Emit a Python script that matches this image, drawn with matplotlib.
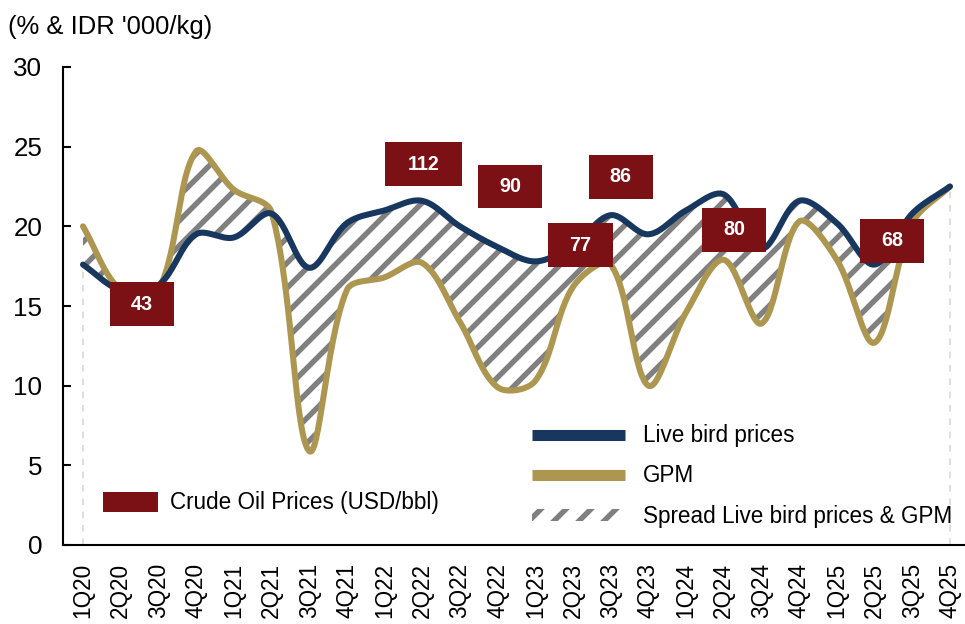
import numpy as np
import matplotlib
matplotlib.use("Agg")
import matplotlib.pyplot as plt
from matplotlib.patches import Rectangle, Patch
from matplotlib.lines import Line2D

plt.rcParams["font.family"] = ["Liberation Sans", "DejaVu Sans"]
plt.rcParams["hatch.linewidth"] = 2.6

# Chart data
quarters = ["1Q20", "2Q20", "3Q20", "4Q20", "1Q21", "2Q21", "3Q21", "4Q21",
            "1Q22", "2Q22", "3Q22", "4Q22", "1Q23", "2Q23", "3Q23", "4Q23",
            "1Q24", "2Q24", "3Q24", "4Q24", "1Q25", "2Q25", "3Q25", "4Q25"]
live_bird = [17.6, 16.0, 16.3, 19.5, 19.3, 20.8, 17.4, 20.2, 21.0, 21.6, 20.0, 18.7,
             17.8, 18.8, 20.7, 19.5, 21.0, 22.0, 18.6, 21.6, 20.2, 17.6, 20.8, 22.5]
gpm = [20.0, 16.0, 16.0, 24.7, 22.3, 20.9, 5.9, 16.0, 16.8, 17.7, 14.0, 9.9,
       10.3, 16.2, 17.6, 10.0, 14.6, 17.9, 13.9, 20.3, 17.9, 12.7, 20.2, 22.5]

# Crude oil price call-outs (USD/bbl) and where their boxes sit
oil_labels = ["43", "112", "90", "77", "86", "80", "68"]
oil_x = [1.56, 9.04, 11.33, 13.2, 14.27, 17.27, 21.46]
oil_y = [15.1, 23.9, 22.5, 18.8, 23.1, 19.8, 19.1]

NAVY = "#17375E"
GOLD = "#AD9750"
OIL_RED = "#7B1114"
HATCH_GREY = "#808080"

# pixel size of one x step / one y unit, used so smoothing works in screen space
PX_X, PX_Y = 37.7, 15.93


def smooth(values, steps=30):
    # Excel-like smoothed line: Bezier segments, tangents weighted by chord length
    pts = np.column_stack([np.arange(len(values)) * PX_X,
                           np.asarray(values, float) * PX_Y])
    n = len(pts)
    out = []
    for i in range(n - 1):
        p1, p2 = pts[i], pts[i + 1]
        l12 = np.hypot(*(p2 - p1))
        if i > 0:
            p0 = pts[i - 1]
            l01 = np.hypot(*(p1 - p0))
            c1 = p1 + (p2 - p0) * l12 / (l01 + l12) / 3
        else:
            c1 = p1 + (p2 - p1) / 3
        if i + 2 < n:
            p3 = pts[i + 2]
            l23 = np.hypot(*(p3 - p2))
            c2 = p2 - (p3 - p1) * l12 / (l12 + l23) / 3
        else:
            c2 = p2 - (p2 - p1) / 3
        t = np.linspace(0, 1, steps, endpoint=(i == n - 2))[:, None]
        seg = ((1 - t) ** 3 * p1 + 3 * (1 - t) ** 2 * t * c1
               + 3 * (1 - t) * t ** 2 * c2 + t ** 3 * p2)
        out.append(seg)
    out = np.vstack(out)
    return out[:, 0] / PX_X, out[:, 1] / PX_Y


W, H = 965, 624
fig = plt.figure(figsize=(W / 150, H / 150), dpi=150)
ax = fig.add_axes([63 / W, (H - 545) / H, (W - 63) / W, (545 - 67) / H])

xs_l, live_s = smooth(live_bird)
xs_g, gpm_s = smooth(gpm)
xs = np.linspace(0, len(quarters) - 1, 1200)
live_i = np.interp(xs, xs_l, live_s)
gpm_i = np.interp(xs, xs_g, gpm_s)

ax.fill_between(xs, live_i, gpm_i, facecolor="white", edgecolor=HATCH_GREY,
                hatch="//", linewidth=0, zorder=1)
ax.vlines([0, len(quarters) - 1], 0,
          [min(live_bird[0], gpm[0]), min(live_bird[-1], gpm[-1])],
          colors="#D9D9D9", linestyles=(0, (4, 4)), linewidth=0.8, zorder=0)
ax.plot(xs_g, gpm_s, color=GOLD, lw=2.9, zorder=2, solid_capstyle="round")
ax.plot(xs_l, live_s, color=NAVY, lw=2.9, zorder=3, solid_capstyle="round")

for lab, x, y in zip(oil_labels, oil_x, oil_y):
    w = 1.02 + 0.34 * len(lab)
    h = 2.76
    ax.add_patch(Rectangle((x - w / 2, y - h / 2), w, h, facecolor=OIL_RED,
                           edgecolor="none", zorder=4))
    ax.text(x, y, lab, color="white", fontweight="bold", fontsize=9.5,
            ha="center", va="center", zorder=5)

ax.set_xlim(-0.53, 23.4)
ax.set_ylim(0, 30)
ax.set_yticks(range(0, 31, 5))
ax.set_xticks(range(len(quarters)))
ax.set_xticklabels(quarters, rotation=90)
ax.tick_params(axis="y", direction="in", length=3.8, width=1, pad=10, labelsize=12.5)
ax.tick_params(axis="x", length=0, pad=8.6, labelsize=10.8)
for side in ["top", "right"]:
    ax.spines[side].set_visible(False)
for side in ["left", "bottom"]:
    ax.spines[side].set_linewidth(1.0)
    ax.spines[side].set_color("black")

leg1 = ax.legend(handles=[Patch(facecolor=OIL_RED, edgecolor="none")],
                 labels=["Crude Oil Prices (USD/bbl)"], loc="center left",
                 bbox_to_anchor=(103 / W, 1 - 503 / H), bbox_transform=fig.transFigure,
                 frameon=False, fontsize=10.8, handlelength=2.44, handleheight=0.96,
                 handletextpad=0.52, borderpad=0, borderaxespad=0)
ax.add_artist(leg1)

handles = [Line2D([], [], color=NAVY, lw=5.3, solid_capstyle="butt"),
           Line2D([], [], color=GOLD, lw=5.3, solid_capstyle="butt"),
           Patch(facecolor="white", edgecolor=HATCH_GREY, hatch="//", linewidth=0)]
ax.legend(handles=handles,
          labels=["Live bird prices", "GPM", "Spread Live bird prices & GPM"],
          loc="center left", bbox_to_anchor=(532 / W, 1 - 476 / H),
          bbox_transform=fig.transFigure, frameon=False, fontsize=10.8,
          handlelength=4.15, handleheight=0.45, handletextpad=0.79,
          labelspacing=0.78, borderpad=0, borderaxespad=0)

fig.text(8 / W, 1 - 27 / H, "(% & IDR '000/kg)", fontsize=12.3, ha="left", va="center")

fig.savefig("out.png", dpi=150)
